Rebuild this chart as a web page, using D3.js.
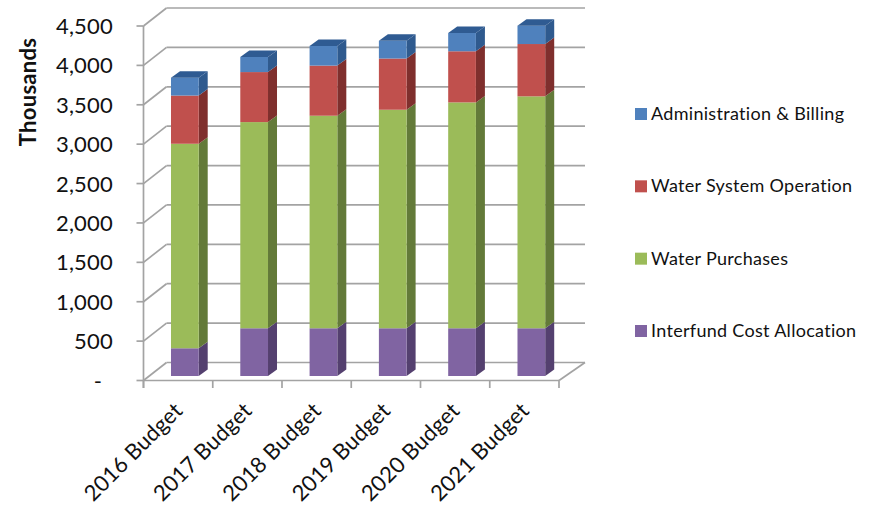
<!DOCTYPE html>
<html><head><meta charset="utf-8">
<script src="https://cdn.jsdelivr.net/npm/d3@7"></script>
<style>html,body{margin:0;padding:0;background:#fff}svg{display:block}text{font-family:Lato,"Open Sans",sans-serif;fill:#111}</style>
</head><body><svg id="c" width="879" height="507"></svg>
<script>
const categories = ["2016 Budget","2017 Budget","2018 Budget","2019 Budget","2020 Budget","2021 Budget"];
const interfund = [352,606,606,606,606,606];
const purchases = [2596,2617,2698,2774,2867,2944];
const operation = [612,635,636,650,649,664];
const admin = [227,192,250,225,232,233];
const seriesNames = ["Interfund Cost Allocation","Water Purchases","Water System Operation","Administration & Billing"];
const seriesValues = [interfund,purchases,operation,admin];
const front = ["#8064a2","#9bbb59","#c0504d","#4f81bd"];
const side = ["#54406f","#637a39","#7f2f2d","#2f5a8e"];
const top_ = ["#5d4880","#6f8a3e","#8c3735","#2f5b92"];
const yTicks = [0,500,1000,1500,2000,2500,3000,3500,4000,4500];

const svg = d3.select("#c");
const frontY = d3.scaleLinear().domain([0,4500]).range([380.5,26]);
const x = d3.scaleBand().domain(categories).range([150.2,566]).paddingInner(0.6).paddingOuter(0.3);
const xTickPos = d3.scaleLinear().domain([0,6]).range([143.5,559]);
const wallDx = 23, wallDy = -18, barDx = 9, barDy = -6.5, barBase = -4.5;
const grid = "#a3a3a3";
const g = svg.append("g");
const line = (x1,y1,x2,y2,w=1.7)=>g.append("line").attr("x1",x1).attr("y1",y1).attr("x2",x2).attr("y2",y2).attr("stroke",grid).attr("stroke-width",w);

yTicks.forEach(t=>{
  const y = frontY(t);
  line(136.5,y,143.5,y);
  line(143.5,y,143.5+wallDx,y+wallDy);
  line(143.5+wallDx,y+wallDy,559+wallDx+3,y+wallDy);
});
line(143.5,frontY(4500),143.5,388);
line(143.5,frontY(0),559,frontY(0));
line(559,frontY(0),559+wallDx+3,frontY(0)+wallDy);
d3.range(0,7).forEach(i=>line(xTickPos(i),frontY(0),xTickPos(i),388));

const rows = categories.map((c,i)=>{const o={cat:c};seriesNames.forEach((s,k)=>o[s]=seriesValues[k][i]);return o;});
const stacked = d3.stack().keys(seriesNames)(rows);
const yb = v=>frontY(v)+barBase;
const w = x.bandwidth();
stacked.forEach((layer,k)=>{
  const bars = svg.append("g").selectAll("g").data(layer).join("g");
  bars.append("path").attr("fill",side[k]).attr("d",d=>{
    const X=x(d.data.cat)+w,y0=yb(d[0]),y1=yb(d[1]);
    return `M${X},${y0}L${X+barDx},${y0+barDy}L${X+barDx},${y1+barDy}L${X},${y1}Z`;});
  bars.append("rect").attr("fill",front[k]).attr("x",d=>x(d.data.cat)).attr("width",w)
    .attr("y",d=>yb(d[1])).attr("height",d=>yb(d[0])-yb(d[1]));
  if(k===3) bars.append("path").attr("fill",top_[k]).attr("d",d=>{
    const X=x(d.data.cat),y1=yb(d[1]);
    return `M${X},${y1}L${X+barDx},${y1+barDy}L${X+w+barDx},${y1+barDy}L${X+w},${y1}Z`;});
});

svg.append("g").selectAll("text").data(yTicks).join("text")
  .attr("x",t=>t===0?102:113).attr("y",t=>frontY(t)+8).attr("text-anchor","end")
  .attr("font-size",22).attr("letter-spacing",0.2).text(t=>t===0?"-":d3.format(",")(t));
svg.append("text").attr("transform","translate(36,92) rotate(-90)").attr("text-anchor","middle")
  .attr("font-size",22).attr("font-weight",700).attr("letter-spacing",0.3).text("Thousands");
svg.append("g").selectAll("text").data(categories).join("text")
  .attr("text-anchor","end").attr("font-size",22).attr("letter-spacing",0.2)
  .attr("transform",d=>`translate(${x(d)+w/2-1},${412}) rotate(-45)`).text(d=>d);

const legendY = d3.scalePoint().domain(seriesNames.slice().reverse()).range([114,331]);
const lg = svg.append("g").selectAll("g").data(seriesNames).join("g").attr("transform",d=>`translate(635,${legendY(d)})`);
lg.append("rect").attr("x",0).attr("y",-6).attr("width",12).attr("height",12).attr("fill",(d,i)=>front[i]);
lg.append("text").attr("x",16).attr("y",6).attr("font-size",18).attr("letter-spacing",0.3).text(d=>d);
</script></body></html>
